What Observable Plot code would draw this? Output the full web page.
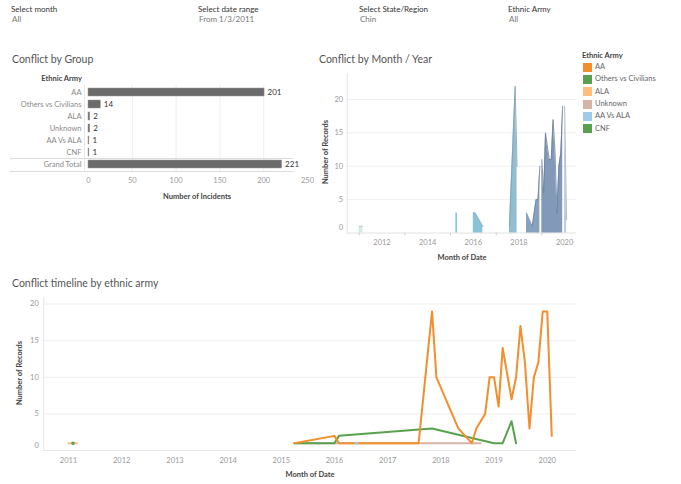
<!DOCTYPE html>
<html><head><meta charset="utf-8">
<script src="https://cdn.jsdelivr.net/npm/d3@7"></script>
<script src="https://cdn.jsdelivr.net/npm/@observablehq/plot@0.6"></script>
<style>
body{margin:0;background:#fff;font-family:Lato,"Open Sans",sans-serif;}
#root{position:relative;width:681px;height:484px;overflow:hidden;background:#fff;}
.t{position:absolute;white-space:nowrap;line-height:1;}
.flab{font-size:8px;color:#333;}
.fval{font-size:8px;color:#777;}
.title{font-size:10.5px;color:#555;}
.axt{font-size:7.5px;color:#444;font-weight:700;}
.chart{position:absolute;}
.leg{font-size:7.5px;color:#666;}
</style></head><body><div id="root"></div>
<script>
// ---------- data ----------
const filterLabels = ["Select month","Select date range","Select State/Region","Ethnic Army"];
const filterValues = ["All","From 1/3/2011","Chin","All"];

const groupCategories = ["AA","Others vs Civilians","ALA","Unknown","AA Vs ALA","CNF","Grand Total"];
const groupIncidents  = [201,14,2,2,1,1,221];
const incidentTicks   = [0,50,100,150,200,250];

const armies      = ["AA","Others vs Civilians","ALA","Unknown","AA Vs ALA","CNF"];
const armyColors  = ["#f28e2b","#59a14f","#ffbe7d","#d7b5a6","#a0cbe8","#59a14f"];

const aaMonths = ["2015-04","2016-01","2016-02","2017-08","2017-11","2017-12","2018-05","2018-08","2018-09","2018-10","2018-11","2018-12","2019-01","2019-02","2019-03","2019-05","2019-06","2019-07","2019-08","2019-09","2019-10","2019-11","2019-12","2020-01","2020-02"];
const aaCounts = [1,2,1,1,19,10,3,1,3,4,5,10,10,6,14,7,10,17,12,3,10,12,19,19,2];
const othersMonths = ["2015-04","2016-01","2016-02","2017-11","2019-01","2019-03","2019-05","2019-06"];
const othersCounts = [1,1,2,3,1,1,4,1];
const alaMonths = ["2011-01","2011-03"];
const alaCounts = [1,1];
const unknownMonths = ["2015-04","2018-10"];
const unknownCounts = [1,1];
const aaVsAlaMonths = ["2016-06"];
const aaVsAlaCounts = [1];
const cnfMonths = ["2011-02"];
const cnfCounts = [1];

const areaYears = [2011,2015,2016,2017,2018,2019,2020];
const areaYearColors = ["#cdeae2","#7cc4d4","#84bfd4","#8cb9ce","#809dbb","#7b94b5","#bac7d8"];

const recordTicks = [0,5,10,15,20];
const topYearTicks = [2012,2014,2016,2018,2020];
const topMinorYears = [2011,2013,2015,2017,2019];
const bottomYearTicks = [2011,2012,2013,2014,2015,2016,2017,2018,2019,2020];

// ---------- helpers ----------
const toDate = s => { const [y,m] = s.split("-").map(Number); return new Date(Date.UTC(y,m-1,1)); };
const yd = y => new Date(Date.UTC(y,0,1));
const seriesMonths = [aaMonths, othersMonths, alaMonths, unknownMonths, aaVsAlaMonths, cnfMonths];
const seriesCounts = [aaCounts, othersCounts, alaCounts, unknownCounts, aaVsAlaCounts, cnfCounts];
const series = armies.map((a,i)=>seriesMonths[i].map((m,j)=>({army:a, month:m, date:toDate(m), n:seriesCounts[i][j]})));
const allRecords = series.flat();
const totals = Array.from(d3.rollup(allRecords, v=>d3.sum(v,d=>d.n), d=>d.month), ([month,total])=>({month, date:toDate(month), year:+month.slice(0,4), total}))
  .sort((a,b)=>a.date-b.date);

const root = document.getElementById("root");
function txt(s, cls, x, y, extra) {
  const d = document.createElement("div");
  d.className = "t " + cls; d.textContent = s;
  d.style.left = x + "px"; d.style.top = y + "px";
  if (extra) Object.assign(d.style, extra);
  root.appendChild(d); return d;
}
function box(x,y,w,h,style){const d=document.createElement("div");d.style.position="absolute";d.style.left=x+"px";d.style.top=y+"px";d.style.width=w+"px";d.style.height=h+"px";Object.assign(d.style,style);root.appendChild(d);}
function place(svg,x,y){const w=document.createElement("div");w.className="chart";w.style.left=x+"px";w.style.top=y+"px";w.appendChild(svg);root.appendChild(w);}

// ---------- filters ----------
const fx = [11,198,359,508];
filterLabels.forEach((l,i)=>{ txt(l,"flab",fx[i],5); txt(filterValues[i],"fval",fx[i]+1,15); });

// ---------- titles ----------
txt("Conflict by Group","title",12,54);
txt("Conflict by Month / Year","title",319,54);
txt("Conflict timeline by ethnic army","title",12,278);

// ---------- bar chart ----------
const barData = groupCategories.map((c,i)=>({cat:c, n:groupIncidents[i]}));
txt("Ethnic Army","axt",0,75,{width:"82px",textAlign:"right",left:"0px"});
box(84,85,0,86,{borderLeft:"1px solid #e6e6e6"});
const barPlot = Plot.plot({
  width:315, height:135,
  marginLeft:88, marginRight:8, marginTop:14.8, marginBottom:33.8,
  style:{fontFamily:"Lato, sans-serif", fontSize:"7.5px", background:"transparent", overflow:"visible"},
  x:{domain:[0,250]},
  y:{domain:groupCategories, padding:0},
  marks:[
    Plot.gridX(incidentTicks.slice(1,5), {stroke:"#eeeeee", strokeOpacity:1}),
    Plot.barX(barData, {x:"n", y:"cat", fill:"#6b6b6b", stroke:"#9a9a9a", strokeWidth:0.5, insetTop:2, insetBottom:2}),
    Plot.text(barData, {x:"n", y:"cat", text:d=>String(d.n), dx:3, textAnchor:"start", fill:"#333", fontSize:8}),
    Plot.axisY({tickSize:0, tickPadding:7, fill:"#8a8a8a", label:null, fontSize:7.5}),
    Plot.axisX(incidentTicks, {tickSize:0, tickPadding:6, fill:"#999", label:null})
  ]
});
place(barPlot,0,70);
box(10,158,283,0,{borderTop:"1px solid #dcdcdc"});
box(10,171,283,0,{borderTop:"1px solid #dcdcdc"});
txt("Number of Incidents","axt",197,193,{transform:"translateX(-50%)"});

// ---------- top-right area chart ----------
const topMarks = [
  Plot.gridY(recordTicks.slice(1), {stroke:"#efefef", strokeOpacity:1}),
  Plot.ruleY([0], {stroke:"#e2e2e2"}),
  Plot.frame({anchor:"left", stroke:"#e2e2e2"})
];
areaYears.forEach((yr,i)=>{
  const pts = totals.filter(d=>d.year===yr);
  const col = areaYearColors[i];
  if (pts.length > 1) {
    topMarks.push(Plot.areaY(pts, {x:"date", y:"total", fill:col, fillOpacity:0.95, curve:"linear"}));
    topMarks.push(Plot.lineY(pts, {x:"date", y:"total", stroke:d3.color(col).darker(0.4).formatHex(), strokeWidth:0.8, curve:"linear"}));
  } else {
    topMarks.push(Plot.ruleX(pts, {x:"date", y1:0, y2:"total", stroke:col, strokeWidth:1.5}));
  }
});
topMarks.push(
  Plot.axisY(recordTicks.slice(1), {tickSize:0, tickPadding:4, fill:"#999", label:null}),
  Plot.axisY([0], {tickSize:0, tickPadding:4, dy:-5, fill:"#999", label:null}),
  Plot.axisX(topYearTicks.map(yd), {tickSize:0, tickPadding:6.5, tickFormat:d3.utcFormat("%Y"), fill:"#999", label:null}),
  Plot.axisX(topMinorYears.map(yd), {tickSize:3, tickFormat:()=>"", stroke:"#d0d0d0", label:null})
);
const topPlot = Plot.plot({
  width:290, height:200,
  marginLeft:46.7, marginRight:14, marginTop:13, marginBottom:27.5,
  style:{fontFamily:"Lato, sans-serif", fontSize:"7.5px", background:"transparent", overflow:"visible"},
  x:{type:"utc", domain:[new Date(Date.UTC(2010,5,23)), new Date(Date.UTC(2020,6,9))]},
  y:{domain:[0,23.9]},
  marks:topMarks
});
place(topPlot,300,60);
txt("Number of Records","axt",326,152,{transform:"translate(-50%,-50%) rotate(-90deg)"});
txt("Month of Date","axt",462,254,{transform:"translateX(-50%)"});

// ---------- legend ----------
txt("Ethnic Army","axt",582,52);
armies.forEach((a,i)=>{
  const cy = 67 + i*12.35;
  box(583, cy-4.5, 9, 9, {background:armyColors[i]});
  txt(a,"leg",595,cy-4);
});

// ---------- bottom line chart ----------
const drawOrder = [3,1,0,2];
const bottomMarks = [
  Plot.gridY(recordTicks.slice(1), {stroke:"#efefef", strokeOpacity:1}),
  Plot.ruleY([0], {stroke:"#e6e6e6"}),
  Plot.frame({anchor:"left", stroke:"#e6e6e6"})
];
drawOrder.forEach(i=>{
  bottomMarks.push(Plot.lineY(series[i], {x:"date", y:"n", stroke:armyColors[i], strokeWidth:2, curve:"linear"}));
});
bottomMarks.push(
  Plot.dot(series[5], {x:"date", y:"n", r:1.8, fill:armyColors[5], stroke:null}),
  Plot.dot(series[4], {x:"date", y:"n", r:1.8, fill:armyColors[4], fillOpacity:0.8, stroke:null}),
  Plot.axisY(recordTicks.slice(1), {tickSize:0, tickPadding:5, fill:"#999", label:null}),
  Plot.axisY([0], {tickSize:0, tickPadding:5, dy:-5, fill:"#999", label:null}),
  Plot.axisX(bottomYearTicks.map(yd), {tickSize:0, tickPadding:7, tickFormat:d3.utcFormat("%Y"), fill:"#999", label:null})
);
const bottomPlot = Plot.plot({
  width:600, height:180,
  marginLeft:43.3, marginRight:24, marginTop:7, marginBottom:20,
  style:{fontFamily:"Lato, sans-serif", fontSize:"7.5px", background:"transparent", overflow:"visible"},
  x:{type:"utc", domain:[new Date(Date.UTC(2010,6,15)), new Date(Date.UTC(2020,6,20))]},
  y:{domain:[0,20.9]},
  marks:bottomMarks
});
place(bottomPlot,0,290);
txt("Number of Records","axt",20,373,{transform:"translate(-50%,-50%) rotate(-90deg)"});
txt("Month of Date","axt",310,471,{transform:"translateX(-50%)"});
</script></body></html>
